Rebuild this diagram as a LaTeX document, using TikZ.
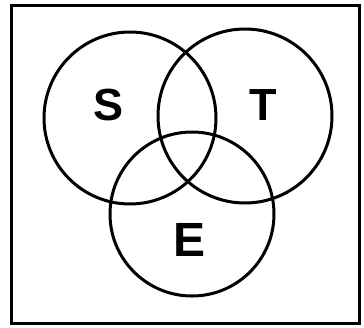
\documentclass[tikz,border=0pt]{standalone}
\usepackage{fontspec}
\setmainfont{Liberation Sans}
\usepackage{tikz}
\usetikzlibrary{calc}
\usepackage{xcolor}
\definecolor{vennink}{HTML}{000000}
\tikzset{
  setring/.style={
    circle,
    draw=vennink,
    line width=3pt,
    inner sep=0pt
  },
  setlabel/.style={
    font=\fontsize{45}{45}\selectfont\bfseries,
    text=vennink,
    inner sep=0pt
  },
  framebox/.style={
    draw=vennink,
    line width=3pt
  }
}

\begin{document}
\begin{tikzpicture}[x=1pt,y=-1pt]
\useasboundingbox (0,0) rectangle (364,327);
\draw[framebox] (11,5) rectangle (359,323);
\node[setring, minimum size=172pt] (ringS) at (130,118) {};
\node[setring, minimum size=174pt] (ringT) at (245,116) {};
\node[setring, minimum size=164pt] (ringE) at (192,214) {};
\node[setlabel] (S) at (109,105.5) {S};
\node[setlabel] (T) at (263,105.5) {T};
\node[setlabel, font=\fontsize{48}{48}\selectfont\bfseries] (E) at (190,240) {E};
\end{tikzpicture}
\end{document}
